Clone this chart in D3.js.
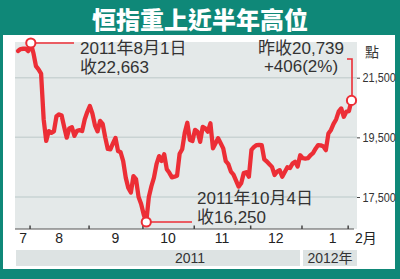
<!DOCTYPE html>
<html lang="zh-Hant">
<head>
<meta charset="UTF-8">
<title>恒指重上近半年高位</title>
<script src="https://d3js.org/d3.v7.min.js"></script>
<style>
  html, body { margin: 0; padding: 0; background: #0f8878; }
  svg { display: block; }
</style>
</head>
<body>
<script>
  // 恒指每日收市 (2011-07-25 至 2012-02-02)
  const closes = [
    22394, 22460, 22470, 22470, 22390,
    22663, 22330, 21890, 21780, 21640, 20110, 19380, 19710, 19650, 19700,
    20210, 20270, 20230, 19850, 19490, 19800, 19840, 19550, 19720, 19740,
    19710, 20100, 20350,
    20550, 20300, 19900, 19700, 20050, 19950, 19500, 19110, 19100, 19300,
    19480, 19040, 19000, 18700, 18150, 17800, 17650, 18200, 18100, 17500,
    17150,
    16620, 16250, 17500, 17860, 18150, 18600, 18870, 18710, 18930, 18430,
    18310, 18160, 18180, 18210, 18950, 19100, 19650, 19990, 19410, 19380,
    19750, 19690, 19350, 19850, 19800, 19690, 19970, 19130, 19300, 19470,
    19300, 19130, 18700, 18600, 18350, 18250, 18050, 17850, 17960, 18300,
    18330, 18180,
    19080, 19180, 19240, 19250, 19240, 18760, 18690, 18600, 18510, 18240,
    18350, 18400, 18180, 18340, 18500, 18470, 18620, 18680, 18520, 18900,
    18800, 18790, 18800, 18900, 18970, 19120, 19240, 19230, 19200, 19070,
    19630, 19750, 19950, 20100, 20360, 20470, 20190, 20360,
    20380, 20739
  ];

  // 每月交易日數 (7月只有最後一週, 2月只有兩天)
  const monthLabels = ["7", "8", "9", "10", "11", "12", "1", "2月"];
  const monthDays = [5, 23, 21, 20, 22, 20, 18, 2];

  const yTicks = [17500, 19500, 21500];
  const yearLabels = ["2011", "2012年"];

  const notes = [
    { i: 5, lines: ["2011年8月1日", "收22,663"] },
    { i: 50, lines: ["2011年10月4日", "收16,250"] },
    { i: 130, lines: ["昨收20,739", "+406(2%)"] }
  ];

  const width = 400, height = 279;
  const red = "#ec2e36";
  const font = "'Liberation Sans', 'Noto Sans CJK TC', sans-serif";
  const plot = { left: 15, right: 357, top: 42, bottom: 229 };

  const svg = d3.select("body").append("svg")
      .attr("width", width)
      .attr("height", height)
      .attr("viewBox", [0, 0, width, height]);

  svg.append("rect")
      .attr("width", width).attr("height", height)
      .attr("fill", "#0f8878");

  svg.append("text")
      .attr("x", 200).attr("y", 28.5)
      .attr("text-anchor", "middle")
      .attr("fill", "#fff")
      .attr("font-family", "'Noto Sans CJK TC', sans-serif")
      .attr("font-weight", 900)
      .attr("font-size", 24)
      .text("恒指重上近半年高位");

  svg.append("rect")
      .attr("x", 3).attr("y", 35)
      .attr("width", 392).attr("height", 234)
      .attr("fill", "#fff");

  const x = d3.scaleLinear()
      .domain([0, closes.length - 1])
      .range([18, 351.5]);

  const y = d3.scaleLinear()
      .domain([16250, 17500, 22663])
      .range([222, 197, 43]);

  svg.append("rect")
      .attr("x", plot.left).attr("y", plot.top)
      .attr("width", plot.right - plot.left)
      .attr("height", plot.bottom - plot.top)
      .attr("fill", "#e4e9e9");

  // 橫格線及右邊刻度
  svg.append("g")
    .selectAll("line")
    .data(yTicks)
    .join("line")
      .attr("x1", plot.left).attr("x2", plot.right)
      .attr("y1", d => y(d)).attr("y2", d => y(d))
      .attr("stroke", "#c9d3d3")
      .attr("stroke-width", 1.5);

  const yAxis = svg.append("g")
      .attr("transform", `translate(${plot.right},0)`)
      .call(d3.axisRight(y).tickValues(yTicks).tickSize(3).tickPadding(2)
        .tickFormat(d3.format(",")));
  yAxis.select(".domain").remove();
  yAxis.selectAll(".tick line").attr("stroke", "#444");
  yAxis.selectAll(".tick text")
      .attr("fill", "#333")
      .attr("font-family", font)
      .attr("font-size", 13)
      .attr("transform", "scale(0.84,1)")
      .attr("x", 5.5 / 0.84);

  svg.append("text")
      .attr("x", 372).attr("y", 57)
      .attr("text-anchor", "middle")
      .attr("fill", "#333")
      .attr("font-family", font)
      .attr("font-size", 14)
      .text("點");

  // 月份
  const starts = d3.cumsum([0, ...monthDays]).slice(0, monthDays.length);
  const months = monthLabels.map((label, k) => ({
    label,
    start: starts[k],
    mid: starts[k] + (monthDays[k] - 1) / 2
  }));

  svg.append("line")
      .attr("x1", plot.left).attr("x2", plot.right - 3)
      .attr("y1", plot.bottom).attr("y2", plot.bottom)
      .attr("stroke", "#555")
      .attr("stroke-width", 1.2);

  svg.append("g")
    .selectAll("line")
    .data(months.slice(1))
    .join("line")
      .attr("x1", d => x(d.start - 0.3)).attr("x2", d => x(d.start - 0.3))
      .attr("y1", plot.bottom - 3.5).attr("y2", plot.bottom)
      .attr("stroke", "#444")
      .attr("stroke-width", 1.5);

  svg.append("g")
      .attr("font-family", font)
      .attr("font-size", 14)
      .attr("fill", "#222")
    .selectAll("text")
    .data(months)
    .join("text")
      .attr("x", (d, k) => k === months.length - 1 ? x(d.start) + 6
                         : k === months.length - 2 ? x(d.mid) + 8 : x(d.mid))
      .attr("y", 243)
      .attr("text-anchor", (d, k) => k === months.length - 1 ? "start" : "middle")
      .text(d => d.label);

  // 年份底條
  const yearSplit = x(starts[6] - 0.5);
  const bands = [
    { x0: plot.left + 1, x1: yearSplit - 1.5, label: yearLabels[0], tx: (plot.left + plot.right) / 2 + 4 },
    { x0: yearSplit + 1.5, x1: plot.right, label: yearLabels[1] }
  ];
  bands[1].tx = (bands[1].x0 + bands[1].x1) / 2;

  svg.append("g")
    .selectAll("rect")
    .data(bands)
    .join("rect")
      .attr("x", d => d.x0).attr("y", 250)
      .attr("width", d => d.x1 - d.x0).attr("height", 16)
      .attr("fill", "#dde3e3");

  svg.append("g")
      .attr("font-family", font)
      .attr("font-size", 14)
      .attr("fill", "#333")
      .attr("text-anchor", "middle")
    .selectAll("text")
    .data(bands)
    .join("text")
      .attr("x", d => d.tx).attr("y", 262.5)
      .text(d => d.label);

  // 指數線
  const line = d3.line()
      .x((d, i) => x(i))
      .y(d => y(d));

  svg.append("path")
      .datum(closes)
      .attr("fill", "none")
      .attr("stroke", red)
      .attr("stroke-width", 4.3)
      .attr("stroke-linejoin", "round")
      .attr("stroke-linecap", "round")
      .attr("d", line);

  // 標註
  const px = d => x(d.i), py = d => y(closes[d.i]);

  const lead = svg.append("g")
      .attr("fill", "none")
      .attr("stroke", red)
      .attr("stroke-width", 1.6);

  lead.append("line")
      .attr("x1", px(notes[0])).attr("x2", 74)
      .attr("y1", py(notes[0])).attr("y2", py(notes[0]));
  lead.append("line")
      .attr("x1", px(notes[1])).attr("x2", 192)
      .attr("y1", py(notes[1])).attr("y2", py(notes[1]));
  lead.append("polyline")
      .attr("points", [[347, 59], [px(notes[2]) + 0.5, 59], [px(notes[2]) + 0.5, py(notes[2])]]);

  svg.append("g")
    .selectAll("circle")
    .data(notes)
    .join("circle")
      .attr("cx", px)
      .attr("cy", py)
      .attr("r", 4.6)
      .attr("fill", "#fff")
      .attr("stroke", red)
      .attr("stroke-width", 2);

  const textPos = [
    { x: 80, y: 54, anchor: "start" },
    { x: 197, y: 204, anchor: "start" },
    { x: 301, y: 53.5, anchor: "middle" }
  ];

  svg.append("g")
      .attr("font-family", font)
      .attr("font-size", 17)
      .attr("fill", "#333")
    .selectAll("text")
    .data(notes)
    .join("text")
      .attr("x", (d, k) => textPos[k].x)
      .attr("y", (d, k) => textPos[k].y)
      .attr("text-anchor", (d, k) => textPos[k].anchor)
      .selectAll("tspan")
      .data((d, k) => d.lines.map(t => ({ t, k })))
      .join("tspan")
        .attr("x", d => textPos[d.k].x)
        .attr("dy", (d, j) => j ? 18.5 : 0)
        .text(d => d.t);
</script>
</body>
</html>
